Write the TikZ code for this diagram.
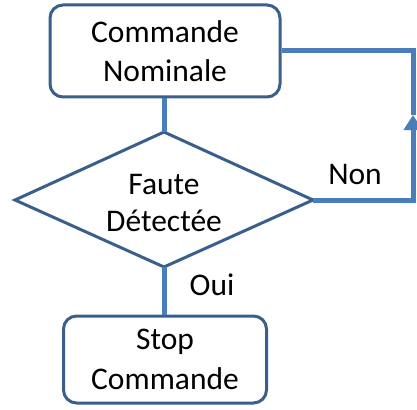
\documentclass[tikz,border=0pt]{standalone}
\usepackage{fontspec}
\setmainfont{Carlito}
\usetikzlibrary{shapes.geometric,arrows.meta}
\definecolor{boxborder}{HTML}{3A5F8B}
\definecolor{connblue}{HTML}{4A7EBB}
\tikzset{
  boxnode/.style={draw=boxborder, line width=3pt, rounded corners=13pt, fill=white,
    align=center, font=\fontsize{31.5}{39.5}\selectfont, inner sep=0pt},
  conn/.style={draw=connblue, line width=5pt},
  lbl/.style={font=\fontsize{31.5}{36}\selectfont, inner sep=0pt, anchor=base}
}
\begin{document}
\begin{tikzpicture}[x=1pt,y=-1pt]
\useasboundingbox (0,0) rectangle (417,409);
\coordinate (loopc) at (413,115);
\node[boxnode, minimum width=230pt, minimum height=92pt] (top) at (165,51) {Commande\\Nominale};
\draw[boxborder, line width=3pt] (15,200) -- (164,132) -- (313,200) -- (164,267) -- cycle;
\coordinate (dN) at (164,132);
\coordinate (dS) at (164,267);
\coordinate (dE) at (313,200);
\node[font=\fontsize{31.5}{37}\selectfont, align=center, inner sep=0pt] (dtext) at (164,203) {Faute\\Détectée};
\node[boxnode, minimum width=203pt, minimum height=87pt] (bot) at (165,359.5) {Stop\\Commande};
\draw[conn] (top.south -| dN) -- (dN);
\draw[conn] (dS) -- (bot.north -| dS);
\draw[conn, -{Triangle[width=18pt,length=15pt]}] (dE) -| (loopc);
\draw[conn] (loopc) |- (top.east);
\node[lbl] (non) at (355,184) {Non};
\node[lbl] (oui) at (212,295) {Oui};
\end{tikzpicture}
\end{document}
